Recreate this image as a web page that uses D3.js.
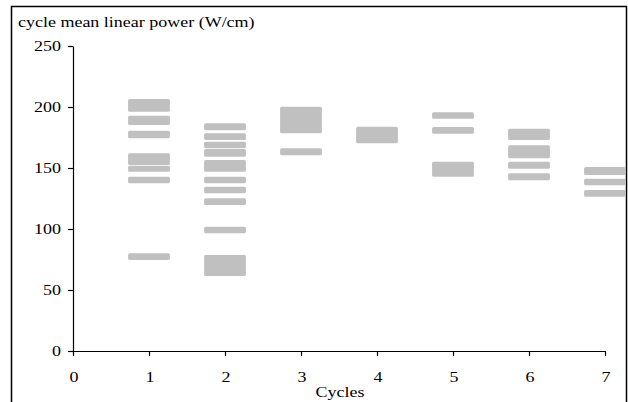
<!DOCTYPE html>
<html><head><meta charset="utf-8">
<script src="https://cdn.jsdelivr.net/npm/d3@7"></script>
<style>body{margin:0;background:#fff}svg{display:block}</style>
</head><body>
<svg id="c" width="628" height="402"></svg>
<script>
// Data: each band is a range of cycle mean linear power for a cycle
const bandCycle = [1,1,1,1,1,1,1, 2,2,2,2,2,2,2,2,2,2, 3,3, 4, 5,5,5, 6,6,6,6, 7,7,7];
const bandLow   = [196.1,185.2,174.3,152.5,147.0,137.5,74.6,
                   180.9,173.0,166.1,159.3,147.0,137.5,129.3,119.7,96.5,61.5,
                   178.4,160.4, 170.2, 190.4,178.1,142.9,
                   173.0,158.0,149.4,139.9, 144.3,135.8,126.5];
const bandHigh  = [206.6,192.9,180.6,162.0,151.9,142.9,80.1,
                   186.6,178.4,171.6,165.6,156.6,142.9,134.7,125.2,101.9,78.7,
                   200.2,166.1, 183.9, 195.7,183.6,155.2,
                   182.2,168.6,155.2,145.7, 150.8,141.2,132.0];
const xTicks = [0,1,2,3,4,5,6,7];
const yTicks = [0,50,100,150,200,250];
const yTitle = "cycle mean linear power (W/cm)";
const xTitle = "Cycles";

const svg = d3.select("#c");
const x = d3.scaleLinear().domain([0,7]).range([73,605]);
const y = d3.scaleLinear().domain([0,250]).range([351,46]);
const font = "'Liberation Serif','Times New Roman',serif";
const bandHalf = 0.275;

svg.append("rect").attr("x",11.5).attr("y",6.5).attr("width",615).attr("height",420)
  .attr("fill","none").attr("stroke","#000").attr("stroke-width",1.5);

const bands = bandCycle.map((c,i)=>({c, lo:bandLow[i], hi:bandHigh[i]}));
svg.append("g").selectAll("rect").data(bands).join("rect")
  .attr("x", d=>x(d.c-bandHalf))
  .attr("width", d=>x(d.c+bandHalf)-x(d.c-bandHalf))
  .attr("y", d=>y(d.hi))
  .attr("height", d=>y(d.lo)-y(d.hi))
  .attr("rx",1.5)
  .attr("fill","#c0c0c0");

const yAxis = svg.append("g").attr("transform","translate(73,0)")
  .call(d3.axisLeft(y).tickValues(yTicks).tickSize(5).tickSizeOuter(0).tickFormat(""));
const xAxis = svg.append("g").attr("transform","translate(0,351)")
  .call(d3.axisBottom(x).tickValues(xTicks).tickSize(5).tickSizeOuter(0).tickFormat(""));
[yAxis,xAxis].forEach(a=>{a.selectAll("path,line").attr("stroke","#000").attr("stroke-width",1.2);});

function label(txt, px, py, anchor){
  svg.append("text").attr("transform",`translate(${px},${py}) scale(1.2,1)`)
    .attr("text-anchor",anchor).attr("font-family",font).attr("font-size",15)
    .attr("fill","#000").text(txt);
}
yTicks.forEach(v=>label(String(v), 61, y(v)+5, "end"));
xTicks.forEach(v=>label(String(v), x(v)+1, 382, "middle"));
label(xTitle, 340, 397, "middle");
label(yTitle, 18, 27, "start");
</script>
</body></html>
